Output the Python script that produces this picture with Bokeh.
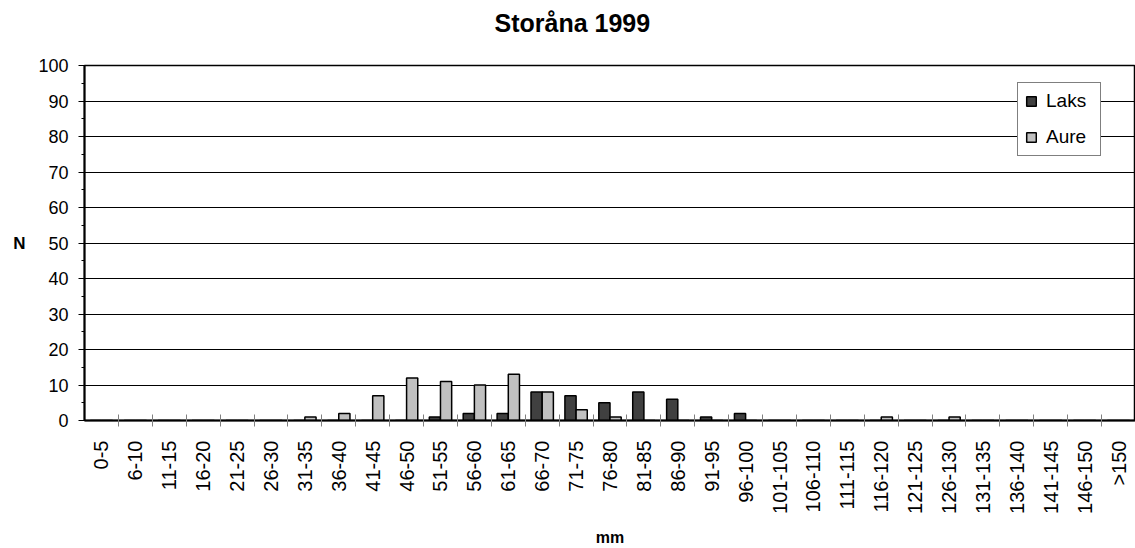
import math
from bokeh.plotting import figure
from bokeh.models import (Range1d, FixedTicker, SingleIntervalTicker, ColumnDataSource,
                          Legend, LegendItem, Title)
from bokeh.transform import dodge
from bokeh.embed import file_html
from bokeh.resources import INLINE

categories = ["0-5", "6-10", "11-15", "16-20", "21-25", "26-30", "31-35", "36-40",
              "41-45", "46-50", "51-55", "56-60", "61-65", "66-70", "71-75", "76-80",
              "81-85", "86-90", "91-95", "96-100", "101-105", "106-110", "111-115",
              "116-120", "121-125", "126-130", "131-135", "136-140", "141-145",
              "146-150", ">150"]
laks = [0, 0, 0, 0, 0, 0, 0, 0, 0, 0, 1, 2, 2, 8, 7, 5, 8, 6, 1, 2,
        0, 0, 0, 0, 0, 0, 0, 0, 0, 0, 0]
aure = [0, 0, 0, 0, 0, 0, 1, 2, 7, 12, 11, 10, 13, 8, 3, 1, 0, 0, 0, 0,
        0, 0, 0, 1, 0, 1, 0, 0, 0, 0, 0]
series_names = ["Laks", "Aure"]
title_text = "Storåna 1999"
y_label = "N"
x_label = "mm"

FONT = "Liberation Sans"
pos = list(range(1, len(categories) + 1))
src = ColumnDataSource(dict(x=pos, laks=laks, aure=aure))

p = figure(width=1135, height=548, output_backend="svg", toolbar_location=None,
           x_range=Range1d(0.5, len(categories) + 0.5), y_range=Range1d(0, 100),
           min_border_left=84, min_border_right=0, min_border_top=65,
           min_border_bottom=128)
p.title = None
p.outline_line_color = "black"
p.outline_line_width = 1.5
p.background_fill_color = "white"
p.border_fill_color = "white"

# spacer between the title and the plot area
spacer = Title(text=" ", text_font_size="10px", standoff=6, text_font=FONT)
p.add_layout(spacer, "above")

main_title = Title(text=title_text, align="left", offset=410, vertical_align="top",
                   standoff=16, text_font=FONT, text_font_style="bold",
                   text_font_size="25px", text_color="black")
p.add_layout(main_title, "above")

bw = 0.33
r1 = p.vbar(x=dodge("x", -bw / 2, range=p.x_range), top="laks", width=bw, source=src,
            fill_color="#404040", line_color="black", line_width=1.5)
r2 = p.vbar(x=dodge("x", bw / 2, range=p.x_range), top="aure", width=bw, source=src,
            fill_color="#c0c0c0", line_color="black", line_width=1.5)

# x axis
xa = p.xaxis[0]
xa.ticker = FixedTicker(ticks=pos, minor_ticks=[v + 0.5 for v in pos[:-1]])
xa.major_label_overrides = {v: c for v, c in zip(pos, categories)}
xa.major_label_orientation = math.pi / 2
xa.major_tick_in = 0
xa.major_tick_out = 0
xa.minor_tick_in = 6
xa.minor_tick_out = 6
xa.minor_tick_line_color = "#808080"
xa.minor_tick_line_width = 1
xa.axis_line_color = "black"
xa.axis_line_width = 2
xa.major_label_text_font = FONT
xa.major_label_text_font_size = "20px"
xa.major_label_text_color = "black"
xa.major_label_standoff = 14
xa.axis_label = x_label
xa.axis_label_text_font = FONT
xa.axis_label_text_font_style = "bold"
xa.axis_label_text_font_size = "16px"
xa.axis_label_text_color = "black"
xa.axis_label_standoff = 12

# y axis
ya = p.yaxis[0]
ya.ticker = SingleIntervalTicker(interval=10, num_minor_ticks=2)
ya.major_tick_in = 0
ya.major_tick_out = 6
ya.minor_tick_in = 0
ya.minor_tick_out = 3
ya.major_tick_line_color = "black"
ya.minor_tick_line_color = "black"
ya.axis_line_color = "black"
ya.axis_line_width = 2
ya.major_label_text_font = FONT
ya.major_label_text_font_size = "18px"
ya.major_label_text_color = "black"
ya.major_label_standoff = 10
ya.axis_label = y_label
ya.axis_label_orientation = "horizontal"
ya.axis_label_text_font = FONT
ya.axis_label_text_font_style = "bold"
ya.axis_label_text_font_size = "17px"
ya.axis_label_text_color = "black"
ya.axis_label_standoff = 10

p.xgrid.grid_line_color = None
p.ygrid.grid_line_color = "black"
p.ygrid.grid_line_width = 1

legend = Legend(items=[LegendItem(label=series_names[0], renderers=[r1]),
                       LegendItem(label=series_names[1], renderers=[r2])],
                location=(933, 264))
legend.border_line_color = "black"
legend.border_line_width = 1
legend.background_fill_color = "white"
legend.background_fill_alpha = 1
legend.label_text_font = FONT
legend.label_text_font_size = "19px"
legend.label_text_color = "black"
legend.label_width = 47
legend.glyph_width = 12
legend.glyph_height = 12
legend.label_standoff = 9
legend.padding = 7
legend.spacing = 14
legend.margin = 0
p.add_layout(legend)

open("out.html", "w").write(file_html(p, INLINE))
